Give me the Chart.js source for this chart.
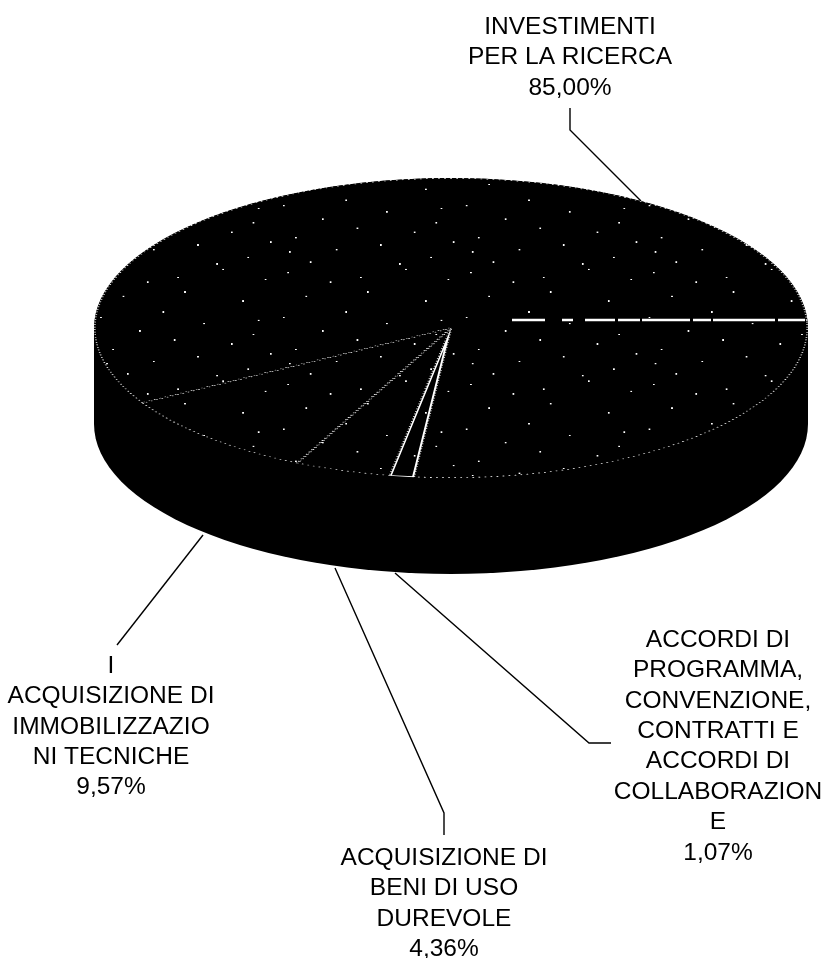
<!DOCTYPE html>
<html lang="it">
<head>
  <meta charset="UTF-8" />
  <title>Ripartizione investimenti</title>
  <script src="https://cdn.jsdelivr.net/npm/chart.js"></script>
  <style>
    html, body { margin: 0; background: #fff; }
    canvas { display: block; }
  </style>
</head>
<body>
  <canvas id="torta" width="824" height="958"></canvas>

  <script>
    // dati
    const categorie = [
      'INVESTIMENTI PER LA RICERCA',
      'ACCORDI DI PROGRAMMA, CONVENZIONE, CONTRATTI E ACCORDI DI COLLABORAZIONE',
      'ACQUISIZIONE DI BENI DI USO DUREVOLE',
      'ACQUISIZIONE DI IMMOBILIZZAZIONI TECNICHE'
    ];
    const valori = [85.00, 1.07, 4.36, 9.57];
    const righeEtichette = [
      ['INVESTIMENTI', 'PER LA RICERCA'],
      ['ACCORDI DI', 'PROGRAMMA,', 'CONVENZIONE,', 'CONTRATTI E', 'ACCORDI DI', 'COLLABORAZION', 'E'],
      ['ACQUISIZIONE DI', 'BENI DI USO', 'DUREVOLE'],
      ['I', 'ACQUISIZIONE DI', 'IMMOBILIZZAZIO', 'NI TECNICHE']
    ];

    // geometria della torta schiacciata
    const centroX = 451, centroY = 328, raggioX = 357, raggioY = 150, spessore = 96;

    // posizione etichette e linee di richiamo, stesso ordine di categorie
    const posEtichette = [
      { x: 570, y: 27 },
      { x: 718, y: 640 },
      { x: 444, y: 858 },
      { x: 111, y: 666 }
    ];
    const passoRiga = 30.4;
    const richiami = [
      [[570, 108], [570, 130], [641, 201]],
      [[395, 573], [589, 743], [611, 743]],
      [[335, 568], [444, 813], [444, 835]],
      [[203, 535], [117, 645]]
    ];

    // puntini bianchi della scansione sulla faccia superiore
    const puntiniTrama = [
      [12, 18], [61, 44], [148, 9], [197, 37], [33, 83], [104, 71], [171, 96], [79, 126],
      [7, 141], [126, 158], [189, 149], [52, 178], [92, 203], [158, 214], [21, 229], [203, 241],
      [68, 262], [119, 249], [177, 283], [38, 296], [141, 301], [96, 31], [183, 188], [14, 268]
    ];
    function creaTrama() {
      const c = document.createElement('canvas');
      c.width = 211; c.height = 307;
      const g = c.getContext('2d');
      g.fillStyle = '#000';
      g.fillRect(0, 0, 211, 307);
      g.fillStyle = '#fff';
      puntiniTrama.forEach(p => g.fillRect(p[0], p[1], 2, 4));
      return g.createPattern(c, 'repeat');
    }
    const trama = creaTrama();

    const tortaPlugin = {
      id: 'torta3d',
      beforeDatasetsDraw(chart) {
        const ctx = chart.ctx;
        const arco = chart.getDatasetMeta(0).data[0];

        // linee di richiamo, sotto la torta
        ctx.save();
        ctx.strokeStyle = '#000';
        ctx.lineWidth = 1.4;
        richiami.forEach(punti => {
          ctx.beginPath();
          punti.forEach((p, i) => i ? ctx.lineTo(p[0], p[1]) : ctx.moveTo(p[0], p[1]));
          ctx.stroke();
        });
        ctx.restore();

        // fianco del cilindro
        ctx.save();
        ctx.fillStyle = '#000';
        ctx.beginPath();
        ctx.ellipse(centroX, centroY, raggioX, raggioY, 0, Math.PI, 0);
        ctx.ellipse(centroX, centroY + spessore, raggioX, raggioY, 0, 0, Math.PI);
        ctx.closePath();
        ctx.fill();
        ctx.restore();

        // la faccia superiore viene disegnata da Chart.js con la scala applicata
        ctx.save();
        ctx.translate(centroX, centroY);
        ctx.scale(raggioX / arco.outerRadius, raggioY / arco.outerRadius);
        ctx.translate(-arco.x, -arco.y);
      },
      afterDatasetsDraw(chart) {
        const ctx = chart.ctx;
        ctx.restore();

        // striscia chiara orizzontale della scansione
        ctx.save();
        ctx.strokeStyle = '#fff';
        ctx.lineWidth = 2.5;
        ctx.setLineDash([33, 17, 11, 12, 30, 3, 22, 2, 48, 3, 18, 2, 62, 3, 32]);
        ctx.beginPath();
        ctx.moveTo(512, 320);
        ctx.lineTo(805, 320);
        ctx.stroke();
        ctx.restore();
      },
      afterDraw(chart) {
        const ctx = chart.ctx;
        ctx.save();
        ctx.fillStyle = '#000';
        ctx.font = '24.5px "Liberation Sans", Arial, sans-serif';
        ctx.textAlign = 'center';
        ctx.textBaseline = 'middle';
        righeEtichette.forEach((righe, i) => {
          const pos = posEtichette[i];
          const testo = righe.concat(valori[i].toFixed(2).replace('.', ',') + '%');
          testo.forEach((riga, r) => ctx.fillText(riga, pos.x, pos.y + r * passoRiga));
        });
        ctx.restore();
      }
    };

    new Chart(document.getElementById('torta'), {
      type: 'pie',
      data: {
        labels: categorie,
        datasets: [{
          data: valori,
          backgroundColor: trama,
          borderColor: '#fff',
          borderWidth: ctx => ctx.dataIndex === 1 ? 2 : 1.6,
          borderDash: ctx => ctx.dataIndex === 1 ? [] : [2, 5],
          borderAlign: 'inner',
          clip: false
        }]
      },
      options: {
        responsive: false,
        animation: false,
        rotation: 240,
        plugins: {
          legend: { display: false },
          tooltip: { enabled: false }
        }
      },
      plugins: [tortaPlugin]
    });
  </script>
</body>
</html>
